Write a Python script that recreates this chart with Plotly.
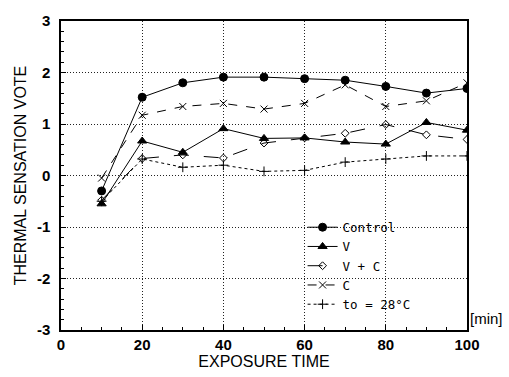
import plotly.graph_objects as go

time_min = [10, 20, 30, 40, 50, 60, 70, 80, 90, 100]
control = [-0.30, 1.52, 1.80, 1.91, 1.91, 1.88, 1.85, 1.73, 1.60, 1.69]
v_only = [-0.55, 0.67, 0.45, 0.91, 0.72, 0.73, 0.65, 0.61, 1.03, 0.88]
v_plus_c = [-0.48, 0.33, 0.40, 0.34, 0.63, 0.73, 0.82, 0.99, 0.79, 0.70]
c_only = [-0.05, 1.17, 1.34, 1.40, 1.29, 1.40, 1.76, 1.34, 1.45, 1.80]
to_28 = [-0.50, 0.32, 0.16, 0.20, 0.08, 0.10, 0.26, 0.32, 0.38, 0.38]

x_ticks = [0, 20, 40, 60, 80, 100]
y_ticks = [-3, -2, -1, 0, 1, 2, 3]
y_tick_text = ["-3", "-2", "-1", "0", "1", "2", "3"]

series = [
    ("Control", control, "solid", "circle", 8),
    ("V", v_only, "solid", "triangle-up", 8),
    ("V + C", v_plus_c, "longdash", "diamond-open", 6),
    ("C", c_only, "dash", "x-thin-open", 7),
    ("to = 28°C", to_28, "dot", "cross-thin-open", 7),
]

fig = go.Figure()
for name, vals, dash, sym, size in series:
    fig.add_trace(go.Scatter(
        x=time_min, y=vals, name=name, mode="lines+markers",
        line=dict(color="black", width=1, dash=dash),
        marker=dict(symbol=sym, size=size, color="black",
                    line=dict(color="black", width=1)),
    ))

axis_common = dict(
    showline=True, linecolor="black", linewidth=1.5, mirror=True,
    showgrid=True, gridcolor="#222", gridwidth=1, griddash="1px,2px",
    zeroline=False, ticks="inside", ticklen=5, tickcolor="black",
    tickfont=dict(family="Liberation Sans", size=15, color="black", weight="bold"),
)

fig.update_xaxes(
    range=[0, 100], tickvals=x_ticks,
    minor=dict(dtick=5, ticks="inside", ticklen=3, tickcolor="black", showgrid=False),
    title=dict(text="EXPOSURE TIME", standoff=1,
               font=dict(family="Liberation Sans", size=16, color="black")),
    **axis_common,
)
fig.update_yaxes(
    range=[-3, 3], tickvals=y_ticks, ticktext=y_tick_text,
    minor=dict(dtick=0.2, ticks="inside", ticklen=3, tickcolor="black", showgrid=False),
    ticklabelstandoff=6,
    title=dict(text="THERMAL SENSATION VOTE", standoff=6,
               font=dict(family="Liberation Sans", size=16, color="black")),
    **axis_common,
)

fig.add_annotation(
    x=1.0, xref="paper", y=-2.78, yref="y", text="[min]", showarrow=False,
    xanchor="left", yanchor="middle", xshift=1,
    font=dict(family="Liberation Sans", size=15, color="black"),
)

fig.update_layout(
    width=509, height=377,
    margin=dict(l=61, r=42, t=15, b=45),
    paper_bgcolor="white", plot_bgcolor="white",
    showlegend=True,
    legend=dict(
        x=0.595, y=0.38, xanchor="left", yanchor="top",
        bgcolor="rgba(0,0,0,0)", borderwidth=0,
        font=dict(family="DejaVu Sans Mono", size=12.5, color="black"),
        tracegroupgap=0, itemwidth=30,
    ),
)

fig.write_html("out.html")
